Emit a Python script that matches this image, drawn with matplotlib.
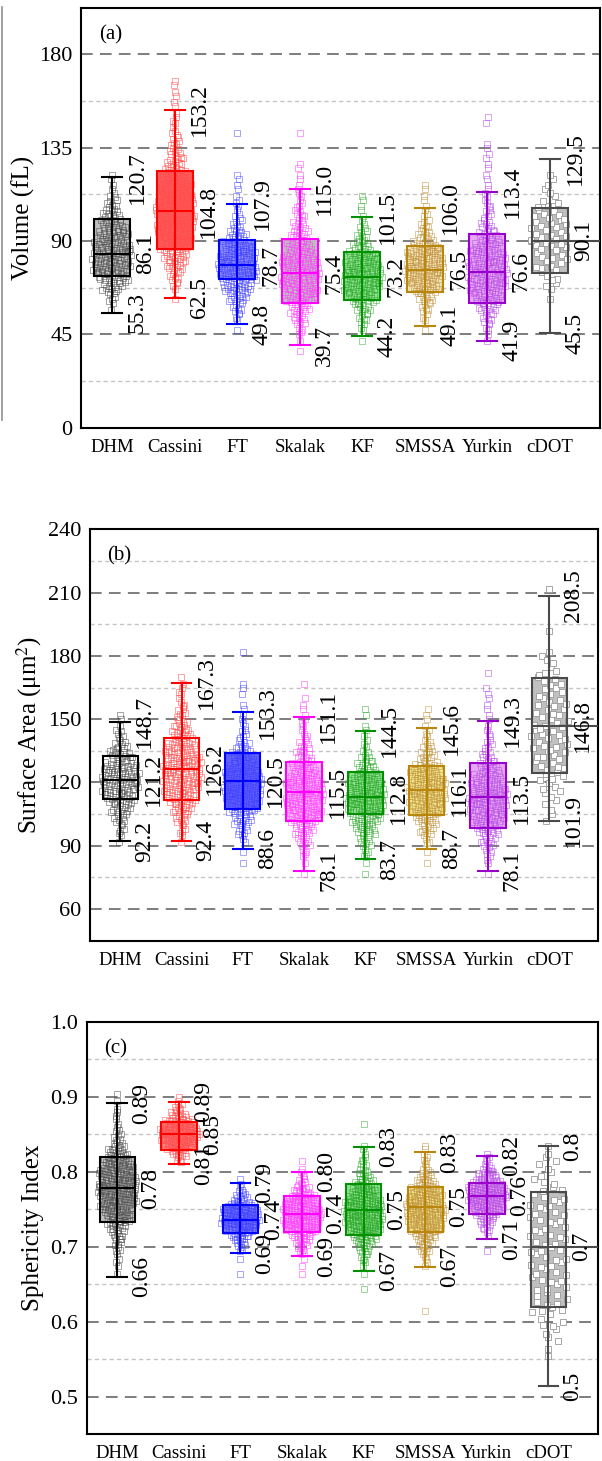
import matplotlib
matplotlib.use('Agg')
import matplotlib.pyplot as plt
from matplotlib.patches import Rectangle
from matplotlib.lines import Line2D

plt.rcParams['font.family'] = ['Liberation Serif', 'DejaVu Serif']
plt.rcParams['mathtext.fontset'] = 'stix'

# ---------------- data ----------------
methods = ['DHM', 'Cassini', 'FT', 'Skalak', 'KF', 'SMSSA', 'Yurkin', 'cDOT']

# (a) Volume (fL)
vol_lo  = [55.3, 62.5, 49.8, 39.7, 44.2, 49.1, 41.9, 45.5]
vol_q1  = [73.0, 86.1, 71.5, 59.9, 61.5, 65.2, 59.9, 74.7]
vol_med = [83.8, 104.4, 78.2, 74.4, 72.8, 76.0, 75.2, 90.0]
vol_q3  = [100.4, 123.7, 90.4, 90.8, 84.7, 87.7, 93.5, 105.7]
vol_hi  = [120.7, 153.2, 107.9, 115.0, 101.5, 106.0, 113.4, 129.5]
vol_lab_lo  = ['55.3', '62.5', '49.8', '39.7', '44.2', '49.1', '41.9', '45.5']
vol_lab_med = ['86.1', '104.8', '78.7', '75.4', '73.2', '76.5', '76.6', '90.1']
vol_lab_hi  = ['120.7', '153.2', '107.9', '115.0', '101.5', '106.0', '113.4', '129.5']
vol_ticks = [0, 45, 90, 135, 180]
vol_bin_w = 5
vol_bin_start = [55, 60, 45, 35, 40, 45, 40, 60]
vol_counts = [
    [2, 5, 12, 19, 22, 23, 22, 19, 15, 11, 7, 4, 2, 1],
    [1, 3, 7, 11, 15, 20, 22, 24, 25, 24, 22, 20, 15, 11, 8, 6, 4, 3, 2, 2, 2, 1],
    [1, 3, 7, 12, 19, 24, 26, 24, 20, 12, 7, 4, 3, 2, 2, 1, 0, 0, 0, 1],
    [1, 2, 4, 8, 12, 18, 22, 24, 23, 20, 15, 11, 8, 6, 4, 3, 2, 2, 1, 0, 0, 1],
    [1, 3, 6, 10, 17, 22, 24, 22, 18, 11, 7, 4, 2, 2, 1],
    [1, 3, 6, 10, 17, 23, 25, 23, 17, 10, 6, 3, 2, 2, 1],
    [2, 3, 7, 11, 17, 21, 23, 23, 21, 17, 12, 8, 5, 4, 3, 2, 2, 2, 2, 1, 0, 2],
    [1, 3, 4, 6, 7, 8, 8, 8, 7, 5, 3, 2, 1],
]

# (b) Surface area (um^2)
sa_lo  = [92.2, 92.4, 88.6, 78.1, 83.7, 88.7, 78.1, 101.9]
sa_q1  = [112.0, 111.6, 107.2, 101.6, 104.9, 104.4, 98.5, 124.6]
sa_med = [121.2, 126.5, 120.7, 115.3, 112.9, 116.3, 112.9, 147.0]
sa_q3  = [132.5, 141.0, 134.1, 129.7, 125.0, 127.9, 129.1, 169.5]
sa_hi  = [148.7, 167.3, 153.3, 151.1, 144.5, 145.6, 149.3, 208.5]
sa_lab_lo  = ['92.2', '92.4', '88.6', '78.1', '83.7', '88.7', '78.1', '101.9']
sa_lab_med = ['121.2', '126.2', '120.5', '115.5', '112.8', '116.1', '113.5', '146.8']
sa_lab_hi  = ['148.7', '167.3', '153.3', '151.1', '144.5', '145.6', '149.3', '208.5']
sa_ticks = [60, 90, 120, 150, 180, 210, 240]
sa_bin_w = 5
sa_bin_start = [90, 90, 80, 75, 75, 80, 75, 100]
sa_counts = [
    [2, 4, 8, 12, 18, 22, 23, 20, 14, 9, 5, 2, 1],
    [2, 4, 8, 12, 18, 22, 24, 24, 22, 18, 13, 9, 6, 4, 3, 2],
    [1, 1, 3, 7, 12, 19, 23, 25, 24, 20, 14, 9, 5, 3, 2, 1, 2, 1, 0, 0, 1],
    [1, 2, 4, 8, 12, 18, 22, 24, 23, 20, 15, 10, 7, 4, 3, 2, 2, 0, 1],
    [1, 2, 4, 8, 13, 19, 23, 25, 23, 18, 12, 7, 3, 2, 1, 2],
    [1, 1, 4, 9, 14, 20, 24, 25, 22, 17, 10, 6, 3, 2, 2],
    [1, 3, 5, 9, 14, 20, 23, 24, 22, 18, 12, 8, 5, 3, 2, 2, 2, 2, 0, 1],
    [2, 2, 3, 4, 5, 6, 6, 7, 7, 7, 6, 6, 5, 5, 4, 3, 1, 0, 1, 0, 0, 0, 1],
]

# (c) Sphericity index
sph_lo  = [0.660, 0.810, 0.691, 0.687, 0.668, 0.673, 0.710, 0.514]
sph_q1  = [0.733, 0.829, 0.718, 0.719, 0.715, 0.719, 0.744, 0.619]
sph_med = [0.778, 0.850, 0.736, 0.744, 0.749, 0.753, 0.768, 0.700]
sph_q3  = [0.819, 0.866, 0.756, 0.768, 0.783, 0.780, 0.785, 0.773]
sph_hi  = [0.891, 0.893, 0.785, 0.800, 0.833, 0.826, 0.821, 0.834]
sph_lab_lo  = ['0.66', '0.81', '0.69', '0.69', '0.67', '0.67', '0.71', '0.5']
sph_lab_med = ['0.78', '0.85', '0.74', '0.74', '0.75', '0.75', '0.76', '0.7']
sph_lab_hi  = ['0.89', '0.89', '0.79', '0.80', '0.83', '0.83', '0.82', '0.8']
sph_ticks = [0.5, 0.6, 0.7, 0.8, 0.9, 1.0]
sph_tick_labels = ['0.5', '0.6', '0.7', '0.8', '0.9', '1.0']
sph_bin_w = 0.01
sph_bin_start = [0.66, 0.81, 0.66, 0.66, 0.64, 0.61, 0.69, 0.55]
sph_counts = [
    [1, 2, 2, 3, 5, 7, 10, 14, 18, 20, 22, 23, 23, 22, 20, 16, 12, 8, 5, 3, 2, 2, 1, 1, 1],
    [4, 11, 20, 27, 28, 22, 12, 6, 2],
    [1, 0, 1, 3, 8, 14, 23, 28, 26, 19, 10, 4, 2],
    [1, 1, 2, 5, 9, 14, 21, 25, 26, 23, 18, 11, 6, 3, 1, 1],
    [1, 0, 1, 2, 4, 7, 11, 16, 21, 24, 25, 24, 21, 16, 12, 8, 5, 3, 2, 1, 0, 0, 1],
    [1, 0, 0, 0, 0, 0, 2, 3, 6, 9, 14, 20, 23, 25, 25, 22, 18, 12, 8, 4, 3, 2, 1],
    [1, 0, 2, 6, 10, 16, 22, 26, 26, 21, 13, 7, 3, 1],
    [1, 1, 2, 2, 3, 2, 4, 4, 3, 4, 4, 4, 4, 4, 4, 4, 4, 4, 4, 4, 4, 4, 3, 3, 2, 2, 2, 1, 1],
]

# ---------------- style ----------------
line_colors = ['#000000', '#FF0000', '#0000FF', '#FF00FF', '#009000', '#B8860B', '#9900CC', '#4A4A4A']
pt_colors = [(0.3, 0.3, 0.3, 0.6), (1.0, 0.3, 0.3, 0.6), (0.25, 0.25, 1.0, 0.55),
             (1.0, 0.25, 1.0, 0.6), (0.15, 0.65, 0.15, 0.55), (0.76, 0.58, 0.25, 0.6),
             (0.72, 0.3, 0.9, 0.6), (0.6, 0.6, 0.6, 1.0)]
pt_faces = ['none'] * 7 + ['white']
pt_sizes = [3.8] * 7 + [4.3]
fc_a = ['#BEBEBE', '#FF5A5A', '#8C8CFF', '#BEBEBE', '#90E090', '#F2E2B8', '#E6A8F2', '#C0C0C0']
fc_b = ['#FFFFFF', '#FFFFFF', '#6060FF', '#F8B8F8', '#90E090', '#F0E68C', '#E6A8F2', '#C0C0C0']
fc_c = ['#BEBEBE', '#FF8080', '#8080FF', '#F8B8F8', '#90E090', '#F0E68C', '#E6A8F2', '#C0C0C0']

BOX_W = 0.575
CAP_W = 0.32
CLOUD_W = 0.64
XLIM = (0.5, 8.8)

fig = plt.figure(figsize=(6.02, 14.61), dpi=100)


def draw_cloud(ax, xc, start, h, counts, ec, fc, ms):
    cmax = max(counts)
    xs, ys = [], []
    for k, c in enumerate(counts):
        if c == 0:
            continue
        w = CLOUD_W * c / cmax
        b0 = start + k * h
        for j in range(c):
            u = ((j + 0.5) / c + 0.37 * k) % 1.0 if c > 1 else 0.5
            xs.append(xc - w / 2 + w * u)
            ys.append(b0 + h * ((j * 0.618034 + 0.37) % 1.0))
    ax.plot(xs, ys, ls='none', marker='s', ms=ms, mfc=fc, mec=ec, mew=0.6, zorder=3)


def draw_panel(ax, lo, q1, med, q3, hi, lab_lo, lab_med, lab_hi, bstart, bw, counts,
               fcs, ylim, ticks, ticklabels, major, minor, ylabel, tag, tagy):
    ax.set_xlim(*XLIM)
    ax.set_ylim(*ylim)
    for y in major:
        ax.axhline(y, color='#808080', lw=1.45, ls=(0, (5.8, 3.6)), zorder=1)
    for y in minor:
        ax.axhline(y, color='#C4C4C4', lw=1.0, ls=(0, (3.0, 2.3)), zorder=1)
    for i in range(len(methods)):
        x = i + 1
        col = line_colors[i]
        ax.add_patch(Rectangle((x - BOX_W / 2, q1[i]), BOX_W, q3[i] - q1[i],
                               facecolor=fcs[i], edgecolor='none', zorder=2))
        draw_cloud(ax, x, bstart[i], bw, counts[i], pt_colors[i], pt_faces[i], pt_sizes[i])
        ax.add_patch(Rectangle((x - BOX_W / 2, q1[i]), BOX_W, q3[i] - q1[i],
                               facecolor='none', edgecolor=col, lw=1.5, zorder=4))
        ax.plot([x, x], [lo[i], hi[i]], color=col, lw=1.5, zorder=4)
        ax.plot([x - CAP_W / 2, x + CAP_W / 2], [lo[i], lo[i]], color=col, lw=1.5, zorder=4)
        ax.plot([x - CAP_W / 2, x + CAP_W / 2], [hi[i], hi[i]], color=col, lw=1.5, zorder=4)
        xm_end = XLIM[1] if i == len(methods) - 1 else x + BOX_W / 2
        ax.plot([x - BOX_W / 2, xm_end], [med[i], med[i]], color=col, lw=1.5, zorder=4)
        ax.text(x + 0.40, hi[i], lab_hi[i], rotation=90, ha='center', va='center',
                fontsize=17, zorder=5)
        ax.text(x + 0.40, lo[i], lab_lo[i], rotation=90, ha='center', va='center',
                fontsize=17, zorder=5)
        ax.text(x + 0.54, med[i], lab_med[i], rotation=90, ha='center', va='center',
                fontsize=17, zorder=5)
    ax.set_xticks(range(1, len(methods) + 1))
    ax.set_xticklabels(methods, fontsize=13.5)
    ax.set_yticks(ticks)
    ax.set_yticklabels(ticklabels, fontsize=16)
    ax.tick_params(axis='both', length=0)
    ax.tick_params(axis='y', pad=6)
    ax.tick_params(axis='x', pad=8)
    for s in ax.spines.values():
        s.set_linewidth(1.5)
    ax.set_ylabel(ylabel, fontsize=18)
    ax.text(0.035, tagy, tag, transform=ax.transAxes, fontsize=15, ha='left', va='center')


W, H = 602.0, 1461.0
ax_a = fig.add_axes([81 / W, 1 - 427.6 / H, (600 - 81) / W, (427.6 - 7.5) / H])
ax_b = fig.add_axes([89.6 / W, 1 - 940.7 / H, (598.3 - 89.6) / W, (940.7 - 529.3) / H])
ax_c = fig.add_axes([86.5 / W, 1 - 1434 / H, (597.7 - 86.5) / W, (1434 - 1021.7) / H])

draw_panel(ax_a, vol_lo, vol_q1, vol_med, vol_q3, vol_hi, vol_lab_lo, vol_lab_med, vol_lab_hi,
           vol_bin_start, vol_bin_w, vol_counts, fc_a, (0, 202.5), vol_ticks,
           [str(t) for t in vol_ticks], [45, 90, 135, 180], [22.5, 67.5, 112.5, 157.5],
           'Volume (fL)', '(a)', 0.935)
draw_panel(ax_b, sa_lo, sa_q1, sa_med, sa_q3, sa_hi, sa_lab_lo, sa_lab_med, sa_lab_hi,
           sa_bin_start, sa_bin_w, sa_counts, fc_b, (45, 240), sa_ticks,
           [str(t) for t in sa_ticks], [60, 90, 120, 150, 180, 210],
           [75, 105, 135, 165, 195, 225], 'Surface Area (μm$^{2}$)', '(b)', 0.936)
draw_panel(ax_c, sph_lo, sph_q1, sph_med, sph_q3, sph_hi, sph_lab_lo, sph_lab_med, sph_lab_hi,
           sph_bin_start, sph_bin_w, sph_counts, fc_c, (0.45, 1.0), sph_ticks,
           sph_tick_labels, [0.5, 0.6, 0.7, 0.8, 0.9], [0.55, 0.65, 0.75, 0.85, 0.95],
           'Sphericity Index', '(c)', 0.934)

ax_a.yaxis.set_label_coords(-0.089, 0.5)
ax_b.yaxis.set_label_coords(-0.09, 0.5)
ax_c.yaxis.set_label_coords(-0.083, 0.5)

fig.add_artist(Line2D([1.5 / W, 1.5 / W], [1 - 7 / H, 1 - 420 / H], color='#909090', lw=1.2))

fig.savefig('out.png', dpi=100)
